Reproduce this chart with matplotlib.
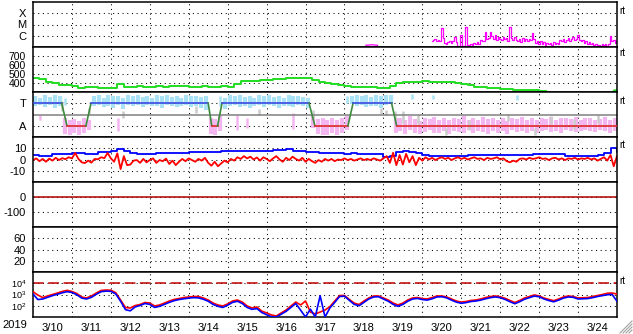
import numpy as np
import matplotlib
matplotlib.use("Agg")
import matplotlib.pyplot as plt
from matplotlib.lines import Line2D

plt.rcParams['font.family'] = ['Liberation Sans', 'DejaVu Sans']
plt.rcParams['mathtext.fontset'] = 'custom'
plt.rcParams['mathtext.rm'] = 'Liberation Sans'

# time axis: days since 2019-03-10 00:00
day_labels = ['3/10', '3/11', '3/12', '3/13', '3/14', '3/15', '3/16', '3/17',
              '3/18', '3/19', '3/20', '3/21', '3/22', '3/23', '3/24']

# --- X-ray flux (log10 W/m2), hourly from day 10.25
xray_start = 10.25
xray_log = [-6.5, -6.4, -6.3, -6.5, -6.35, -6.45, -5.31, -6.2, -6.6, -6.7,
            -6.55, -6.45, -6.6, -6.5, -6.08, -6.55, -6.95, -6.97, -5.93, -6.9,
            -6.95, -5.19, -6.8, -6.9, -6.75, -6.8, -6.6, -6.7, -6.55, -6.75,
            -6.4, -6.5, -6.45, -5.67, -6.3, -6.2, -5.67, -6.0, -6.3, -5.9,
            -6.35, -6.1, -6.25, -6.4, -6.15, -6.3, -6.2, -6.45, -5.25, -6.2,
            -6.35, -6.1, -6.4, -6.5, -6.3, -6.55, -6.2, -6.45, -6.3, -6.5,
            -6.25, -6.4, -5.78, -6.3, -6.6, -6.45, -6.7, -6.5, -6.75, -6.55,
            -6.8, -6.6, -6.75, -6.65, -6.8, -6.55, -6.7, -6.6, -6.75, -6.4,
            -6.5, -6.3, -6.55, -6.4, -6.2, -6.45, -6.3, -6.1, -6.4, -6.25,
            -5.93, -6.35, -6.5, -6.4, -6.6, -6.5, -6.7, -6.55, -6.75, -6.6,
            -6.85, -6.75, -6.9, -6.8, -6.9, -6.7, -6.85, -6.75, -6.9, -6.7,
            -6.02, -6.5, -6.4, -6.6, -6.45]
xray_early_t = [8.55, 8.7, 8.85]
xray_early_log = [-6.85, -6.8, -6.85]

# --- solar wind speed (km/s), every 4 hours
speed = [452, 444, 414, 397, 383, 378, 370, 344, 350, 355, 348, 344, 345, 394,
         361, 359, 367, 361, 355, 365, 360, 372, 366, 366, 360, 355, 366, 360,
         355, 366, 360, 390, 417, 422, 422, 428, 433, 439, 444, 450, 455, 461,
         450, 433, 411, 400, 389, 378, 372, 361, 361, 355, 350, 344, 344, 367,
         400, 411, 414, 414, 417, 414, 414, 411, 411, 400, 386, 378, 361, 350,
         344, 339, 330, 328, 322, 322, 322, 317, 314, 311]
speed_end_t = [14.92, 15.0]
speed_end = [316, 322]

# --- IMF phi (deg), 3-hour bins: band top/bottom
phi_hi = [375, 360, 380, 365, 385, 370, 200, 185, 190, 175, 195, 180,
          370, 380, 360, 385, 370, 375, 360, 380, 370, 385, 365, 375,
          360, 380, 370, 385, 365, 375, 360, 380, 370, 375, 365, 370,
          200, 190, 210, 360, 380, 370, 385, 365, 375, 360, 380, 370,
          385, 365, 375, 360, 380, 370, 375, 365, 360, 230, 190, 200,
          185, 195, 180, 200, 210, 370, 385, 375, 380, 365, 380, 370,
          380, 385, 200, 200, 185, 210, 190, 175, 200, 190, 205, 185,
          195, 180, 200, 190, 210, 185, 195, 180, 205, 190, 200, 185,
          195, 175, 200, 190, 205, 185, 195, 180, 200, 190, 205, 185,
          195, 200, 190, 205, 185, 195, 200, 180, 190, 205, 185, 195]
phi_lo = [290, 300, 285, 300, 280, 295, 70, 60, 75, 60, 80, 100,
          290, 300, 285, 295, 280, 300, 270, 300, 290, 305, 285, 300,
          290, 295, 280, 300, 290, 285, 295, 300, 285, 290, 280, 260,
          70, 60, 90, 270, 290, 300, 285, 295, 280, 290, 300, 285,
          300, 290, 280, 295, 290, 285, 300, 290, 280, 120, 70, 60,
          65, 75, 60, 80, 100, 310, 290, 300, 285, 295, 290, 280,
          300, 320, 80, 90, 70, 100, 80, 70, 85, 100, 80, 75,
          90, 70, 95, 85, 80, 100, 75, 90, 85, 70, 95, 80,
          90, 70, 100, 85, 90, 75, 95, 80, 90, 100, 85, 95,
          80, 100, 90, 85, 95, 100, 90, 85, 100, 95, 80, 90]
stray_t = [0.19, 0.81, 0.75, 1.44, 2.19, 2.31, 4.19, 4.81, 5.24, 5.5, 5.81,
           6.69, 7.19, 8.06, 8.94, 9.06, 9.31, 9.74, 10.27, 12.43, 9.5, 9.9,
           10.6, 11.2, 12.2, 12.9, 13.3, 13.9, 14.5]
stray_lo = [181, 300, 250, 230, 90, 200, 240, 290, 100, 120, 220,
            110, 200, 320, 230, 220, 180, 350, 350, 345, 160, 150,
            60, 100, 170, 60, 150, 110, 160]
stray_hi = [221, 360, 330, 280, 200, 250, 290, 370, 220, 200, 270,
            240, 260, 370, 280, 260, 250, 390, 385, 385, 250, 220,
            120, 180, 230, 120, 210, 190, 220]
stray_kind = ['p', 'b', 'g', 'g', 'p', 'g', 'g', 'b', 'p', 'p', 'g',
              'p', 'g', 'b', 'g', 'g', 'g', 'b', 'b', 'b', 'g', 'g',
              'g', 'g', 'g', 'g', 'g', 'g', 'g']

# sector polarity (T=315, A=135)
sector_t = [0, 0.737, 0.873, 1.36, 1.49, 4.50, 4.59, 4.74, 4.855, 7.09, 7.24,
            8.09, 8.22, 9.21, 9.34, 15]
sector_v = [315, 315, 135, 135, 315, 315, 135, 135, 315, 315, 135,
            135, 315, 315, 135, 135]

# --- IMF Bz (nT), 2-hour steps
bz = [-0.5, 1.0, -1.5, 0.5, -2.0, 0.8, -1.0, 1.5, -0.5, 1.2, 0.3, 2.0, 1.0,
      5.8, 0.5, -2.5, -3.2, -1.0, -2.8, 0.5, 0.2, 2.0, 1.2, 5.8, 1.0, -2.0,
      5.5, -8.5, 3.0, -5.0, -4.5, -1.0, -0.5, -3.0, 0.5, -2.5, -0.5, 1.0,
      -3.0, -0.5, -1.5, 0.8, -4.0, -1.0, -5.0, -2.0, 0.5, -1.5, 1.0, -0.5,
      -2.0, 0.5, -1.0, 1.5, -3.0, -5.5, -2.0, -6.0, -3.5, -1.0, -2.5, 0.5,
      -1.0, 2.0, 0.5, 3.0, 1.0, 2.5, 0.0, 1.8, -1.0, 2.0, 0.5, -1.5, 1.0,
      3.0, 0.0, -2.0, 1.5, -0.5, 2.5, 0.5, -1.0, 1.5, -2.0, 0.5, -1.5, -3.0,
      -0.5, -2.0, 0.5, -1.0, 0.5, -1.5, 0.0, -0.5, 1.0, -0.5, 0.5, -1.0, 0.0,
      1.0, -0.5, 0.5, -0.5, 1.0, 0.0, -1.0, 1.0, 3.0, -3.0, 6.0, -5.0, 4.0,
      -4.5, 5.0, -2.5, 3.0, -5.0, 1.5, -1.0, 2.0, 0.0, 1.5, -0.5, 1.0, 2.0,
      0.5, 1.5, -0.5, 1.0, 2.0, 0.5, 1.5, 0.0, 1.0, 2.0, 0.5, 1.0, -0.5, 1.5,
      0.5, 1.0, 2.0, 0.0, 1.0, -1.5, -2.5, -1.0, -2.0, 0.5, 1.0, 0.0, 1.5,
      0.5, 1.0, 2.0, 0.5, 1.0, -0.5, 1.0, 1.5, 0.0, 1.0, -0.5, 1.0, 0.5, 1.5,
      0.0, 1.0, 0.5, 1.5, 0.0, 1.0, -1.0, 0.5, 2.0, -1.0, 4.0, -6.0, 3.0]
# --- IMF Bt (nT), 4-hour steps
bt = [4.0, 3.5, 3.0, 4.6, 4.5, 5.0, 5.5, 5.5, 5.2, 4.6, 6.5, 7.0, 7.8, 9.3,
      7.8, 5.5, 5.3, 5.3, 5.0, 5.5, 5.8, 6.0, 5.8, 6.2, 6.5, 6.8, 7.0, 6.5,
      7.0, 7.2, 7.5, 7.2, 7.8, 7.5, 8.0, 7.6, 8.0, 8.5, 8.2, 9.0, 8.0, 7.5,
      7.0, 6.5, 6.0, 6.2, 5.8, 5.5, 5.3, 5.5, 5.0, 5.3, 5.0, 4.5, 2.5, 3.0,
      7.0, 7.5, 6.5, 5.8, 4.0, 3.4, 3.5, 3.3, 3.5, 3.4, 3.3, 3.6, 4.0, 3.8,
      4.0, 4.2, 4.0, 3.8, 4.0, 4.3, 4.0, 4.5, 4.9, 4.8, 5.0, 4.5, 3.5, 3.2,
      3.0, 3.2, 3.5, 4.0, 6.0, 10.0, 7.0]

# --- Dst (nT)
dst_t = [0, 15]
dst = [0, 0]

# --- >2 MeV electron flux (log10), 3-hour steps, two satellites
elec_red = [3.25, 2.95, 2.73, 2.87, 3.0, 3.13, 3.27, 3.37, 3.27, 3.09, 2.78,
            2.69, 2.87, 3.13, 3.36, 3.4, 3.38, 3.16, 2.51, 1.84, 1.8, 2.02,
            2.11, 2.29, 2.24, 1.98, 2.07, 2.24, 2.42, 2.56, 2.64, 2.73, 2.78,
            2.82, 2.82, 2.69, 2.51, 2.24, 2.07, 1.98, 2.16, 2.42, 2.51, 2.33,
            1.98, 1.8, 1.89, 1.53, 1.36, 1.18, 1.09, 1.36, 1.62, 1.98, 2.33,
            2.07, 2.42, 1.44, 1.27, 1.44, 1.62, 1.92, 2.42, 2.91, 2.91, 2.56,
            2.24, 2.11, 2.42, 2.69, 2.87, 2.87, 2.69, 2.51, 2.24, 2.07, 2.24,
            2.51, 2.69, 2.73, 2.64, 2.6, 2.73, 2.87, 2.87, 2.78, 2.6, 2.42,
            2.33, 2.38, 2.47, 2.51, 2.6, 2.73, 2.82, 2.87, 2.8, 2.66, 2.47,
            2.29, 2.47, 2.69, 2.82, 2.96, 2.87, 2.69, 2.56, 2.45, 2.6, 2.78,
            2.87, 2.82, 2.69, 2.71, 2.73, 2.82, 2.91, 3.0, 3.11, 3.13, 3.04]
elec_blue = [3.05, 2.55, 2.6, 2.75, 2.9, 3.02, 3.15, 3.25, 3.18, 2.98, 2.68,
             2.6, 2.75, 3.02, 3.25, 3.3, 3.28, 3.05, 2.4, 1.65, 1.55, 1.9,
             2.02, 2.2, 2.12, 1.85, 1.95, 2.12, 2.3, 2.45, 2.55, 2.62, 2.68,
             2.72, 2.7, 2.58, 2.4, 2.12, 1.95, 1.85, 2.05, 2.3, 2.4, 2.2,
             1.85, 1.68, 1.75, 1.4, 1.2, 1.02, 1.0, 1.25, 1.5, 1.85, 2.2,
             1.6, 1.0, 1.7, 1.0, 2.9, 1.0, 1.8, 2.3, 2.82, 2.85, 2.48,
             2.12, 2.0, 2.3, 2.6, 2.78, 2.8, 2.6, 2.4, 2.12, 1.95, 2.12,
             2.4, 2.6, 2.65, 2.55, 2.5, 2.62, 2.78, 2.8, 2.7, 2.5, 2.32,
             2.22, 2.28, 2.38, 2.42, 2.5, 2.62, 2.72, 2.78, 2.72, 2.56, 2.36,
             2.18, 2.36, 2.58, 2.72, 2.86, 2.8, 2.6, 2.46, 2.35, 2.5, 2.68,
             2.78, 2.75, 2.6, 2.62, 2.64, 2.72, 2.82, 2.9, 2.98, 3.0, 2.4]
elec_alert = 1e4

W, H = 633, 334
fig = plt.figure(figsize=(W / 100, H / 100), dpi=100)
fig.patch.set_facecolor('white')

axes = []
for k in range(7):
    top = 2 + 45 * k
    ax = fig.add_axes([33 / W, 1 - (top + 45) / H, 584 / W, 45 / H])
    axes.append(ax)

dot = (0, (1, 3.5))


def style(ax, ticks, labels, ylim, log=False, size=8):
    if log:
        ax.set_yscale('log')
    ax.set_ylim(*ylim)
    ax.set_xlim(0, 15)
    ax.set_yticks(ticks)
    ax.set_yticklabels(labels)
    ax.minorticks_off()
    ax.set_xticks(range(1, 15))
    ax.set_xticklabels([])
    ax.tick_params(length=0, labelsize=size, pad=5)
    for y in ticks:
        ax.axhline(y, color='black', lw=0.75, ls=dot, zorder=0.5)
    for x in range(1, 15):
        ax.axvline(x, color='black', lw=0.75, ls=dot, zorder=0.5)
    for s in ax.spines.values():
        s.set_linewidth(1.1)


# panel 1: X-ray
ax = axes[0]
style(ax, [1e-6, 1e-5, 1e-4], ['C', 'M', 'X'], (1e-7, 1e-3), log=True)
xt = xray_start + np.arange(len(xray_log)) / 24
ax.plot(xt, 10 ** np.array(xray_log), color='#ff00ff', lw=0.9, drawstyle='steps-mid')
ax.plot(xray_early_t, 10 ** np.array(xray_early_log), color='#ff00ff', lw=0.9)

# panel 2: speed
ax = axes[1]
style(ax, [700, 600, 500, 400], ['700', '600', '500', '400'], (300, 800), size=7.5)
st = np.arange(len(speed)) / 6
ax.plot(st, speed, color='#22dd22', lw=1.4, drawstyle='steps-post')
ax.plot(speed_end_t, speed_end, color='#22dd22', lw=1.4)

# panel 3: phi / sector
ax = axes[2]
style(ax, [315, 135], ['T', 'A'], (45, 405))
pt = (np.arange(len(phi_hi)) + 0.5) / 8
hi = np.array(phi_hi)
lo = np.array(phi_lo)
cols = ['#a8e2f4' if (h + l) / 2 > 225 else '#f4b6f0' for h, l in zip(hi, lo)]
ax.vlines(pt, lo, hi, colors=cols, lw=3.0, zorder=1)
kind_col = {'b': '#a8e2f4', 'p': '#f4b6f0', 'g': '#cccccc'}
ax.vlines(stray_t, stray_lo, stray_hi, colors=[kind_col[k] for k in stray_kind],
          lw=1.8, zorder=1.1)
ax.axhline(225, color='#808080', lw=1.1, zorder=2)
for i in range(len(sector_t) - 1):
    v0, v1 = sector_v[i], sector_v[i + 1]
    if v0 == v1:
        c = '#3a48e0' if v0 > 225 else '#e02828'
    else:
        c = '#3c8a3c'
    ax.plot(sector_t[i:i + 2], sector_v[i:i + 2], color=c, lw=1.2, zorder=3)

# panel 4: Bz / Bt
ax = axes[3]
style(ax, [10, 0, -10], ['10', '0', '-10'], (-20, 20))
ax.plot(np.arange(len(bt)) / 6, bt, color='#0000ff', lw=1.3, drawstyle='steps-post')
ax.plot(np.arange(len(bz)) / 12, bz, color='#ff0000', lw=1.3)

# panel 5: Dst
ax = axes[4]
style(ax, [0, -100], ['0', '-100'], (-200, 100))
ax.plot(dst_t, dst, color='#b00000', lw=1.1)

# panel 6: empty
ax = axes[5]
style(ax, [60, 40, 20], ['60', '40', '20'], (0, 80))

# panel 7: electrons
ax = axes[6]
style(ax, [1e4, 1e3, 1e2], [r'$\mathregular{10^4}$', r'$\mathregular{10^3}$',
                            r'$\mathregular{10^2}$'], (10, 1e5), log=True, size=6.5)
et = np.arange(len(elec_red)) / 8
ax.axhline(elec_alert, color='#c00000', lw=1.1, ls=(0, (7, 3)), zorder=2)
ax.plot(et, 10 ** np.array(elec_red), color='#ff0000', lw=1.2, zorder=3)
ax.plot(et, 10 ** np.array(elec_blue), color='#0000ff', lw=1.2, zorder=4)
ax.set_xticks(np.arange(15) + 0.5, minor=True)
ax.set_xticklabels(day_labels, minor=True)
ax.tick_params(axis='x', which='minor', length=0, labelsize=8, pad=4)

fig.text(27 / W, 1 - 325 / H, '2019', fontsize=8, ha='right', va='center')

for y in [11.5, 53.5, 101, 145.5, 281]:
    fig.text(619 / W, 1 - y / H, 'rt', fontsize=7, va='center', ha='left')

# window resize grip
for off in [3, 6, 9, 12]:
    fig.add_artist(Line2D([(632 - off) / W, 632 / W], [1 / H, (1 + off) / H],
                          color='#a0a0a0', lw=0.8))

fig.savefig('out.png', dpi=100)
